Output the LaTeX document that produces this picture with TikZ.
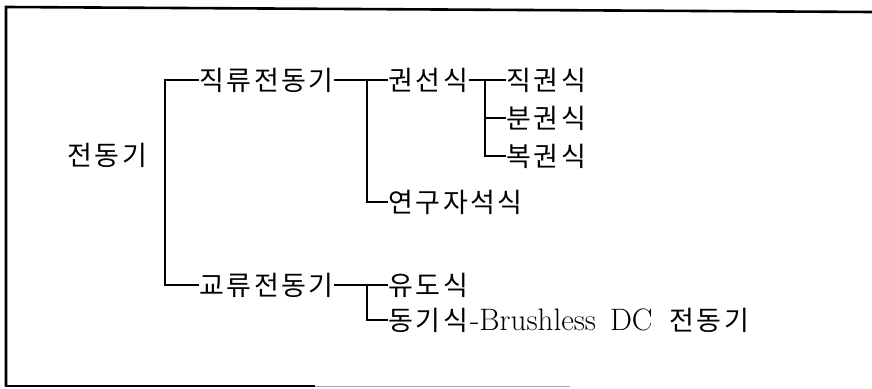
\documentclass[tikz,border=0pt]{standalone}
\usepackage{fontspec}
\newfontfamily\kr[LetterSpace=9]{Noto Sans CJK KR}
\newfontfamily\lat{Latin Modern Roman}
\tikzset{
  lbl/.style={anchor=west, inner sep=0.5pt, font=\kr\fontsize{27}{30}\selectfont},
  conn/.style={line width=1.3pt},
  frame/.style={line width=2.6pt}
}
\begin{document}
\begin{tikzpicture}[x=1pt,y=-1pt]
\useasboundingbox (0,0) rectangle (872,388);
% frame
\draw[frame] (6,386) -- (6,7) -- (872,12);
\draw[frame] (4.7,386) -- (315,386);
\draw[line width=1.2pt, black!35] (315,386.5) -- (570,386.5);
% nodes
\node[lbl] (root) at (67,155) {전동기};
\node[lbl] (dc) at (199,80) {직류전동기};
\node[lbl] (ac) at (199,285) {교류전동기};
\node[lbl] (ws) at (388,80) {권선식};
\node[lbl] (pm) at (388,202) {연구자석식};
\node[lbl] (s1) at (506,80) {직권식};
\node[lbl] (s2) at (506,118) {분권식};
\node[lbl] (s3) at (506,156) {복권식};
\node[lbl] (ind) at (388,285) {유도식};
\node[lbl] (syn) at (388,320) {동기식{\lat\fontsize{31}{34}\selectfont\hspace{2pt}-Brushless\hspace{14pt}DC\hspace{17pt}}전동기};
% junctions
\coordinate (t0) at (165,80);
\coordinate (t1) at (367,80);
\coordinate (t2) at (485,80);
\coordinate (t3) at (367,285);
% connectors
\draw[conn] (dc.west) -- (t0) |- (ac.west);
\draw[conn] (dc.east) -- (ws.west);
\draw[conn] (t1) |- (pm.west);
\draw[conn] (ws.east) -- (s1.west);
\draw[conn] (t2) |- (s3.west);
\draw[conn] (t2 |- s2.west) -- (s2.west);
\draw[conn] (ac.east) -- (ind.west);
\draw[conn] (t3) |- (syn.west);
\end{tikzpicture}
\end{document}
